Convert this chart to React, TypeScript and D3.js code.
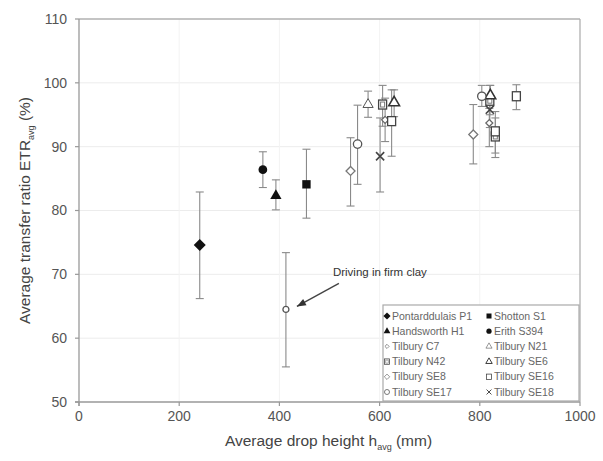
import React from "react";
import * as d3 from "d3";

const seriesNames = [
  "Pontarddulais P1", "Shotton S1", "Handsworth H1", "Erith S394",
  "Tilbury C7", "Tilbury N21", "Tilbury N42", "Tilbury SE6",
  "Tilbury SE8", "Tilbury SE16", "Tilbury SE17", "Tilbury SE18",
];
// point data: series index, drop height, ETR, low, high
const pointSeries = [0, 1, 2, 3, 4, 4, 5, 6, 6, 6, 7, 7, 8, 8, 9, 9, 9, 10, 10, 10, 11, 11];
const pointX = [241, 454, 393, 367, 611, 819, 577, 606, 820, 831, 629, 821, 542, 787, 624, 831, 873, 556, 804, 413, 601, 820];
const pointY = [74.6, 84.1, 82.3, 86.4, 94.2, 93.7, 96.6, 96.6, 97.2, 91.6, 96.9, 98.0, 86.2, 91.9, 94.0, 92.4, 97.9, 90.4, 97.9, 64.5, 88.5, 95.8];
const pointLow = [66.2, 78.8, 80.1, 83.6, 90.8, 90.0, 94.6, 93.2, 95.0, 88.3, 94.7, 96.5, 80.7, 87.3, 88.5, 89.0, 95.8, 84.1, 96.3, 55.5, 82.9, 93.0];
const pointHigh = [82.9, 89.6, 84.8, 89.2, 97.6, 96.0, 98.7, 99.6, 99.6, 94.5, 98.9, 99.6, 91.4, 96.6, 98.9, 95.5, 99.7, 96.5, 99.6, 73.4, 94.5, 98.0];

const xTicks = [0, 200, 400, 600, 800, 1000];
const yTicks = [50, 60, 70, 80, 90, 100, 110];
const annotationText = "Driving in firm clay";

const FONT = "Arial, 'Liberation Sans', sans-serif";

const diamond = (r: number) => `M0,${-r}L${r},0L0,${r}L${-r},0Z`;

function Marker({ s, x, y, scale = 1, small = false }: { s: number; x: number; y: number; scale?: number; small?: boolean }) {
  const t = `translate(${x},${y}) scale(${scale})`;
  const sym = (type: any, size: number) => d3.symbol().type(type).size(size)()!;
  switch (s) {
    case 0:
      return <path transform={t} d={diamond(6)} fill="#111" />;
    case 1:
      return <path transform={t} d={sym(d3.symbolSquare, 70)} fill="#111" />;
    case 2:
      return <path transform={t} d={sym(d3.symbolTriangle, 55)} fill="#111" />;
    case 3:
      return <path transform={t} d={sym(d3.symbolCircle, 60)} fill="#111" />;
    case 4:
      return <path transform={t} d={diamond(3.5)} fill="white" stroke="#666" strokeWidth={1.2} />;
    case 5:
      return <path transform={t} d={sym(d3.symbolTriangle, 45)} fill="white" stroke="#555" strokeWidth={1} />;
    case 6:
      return (
        <g transform={t}>
          <rect x={-4} y={-4.5} width={8} height={9} fill="white" stroke="#444" strokeWidth={1.3} />
          <rect x={-2} y={-2.5} width={4} height={5} fill="none" stroke="#777" strokeWidth={1} />
        </g>
      );
    case 7:
      return <path transform={t} d={sym(d3.symbolTriangle, 50)} fill="white" stroke="#333" strokeWidth={1.6} />;
    case 8:
      return <path transform={t} d={diamond(4.5)} fill="white" stroke="#777" strokeWidth={1.3} />;
    case 9:
      return <rect transform={t} x={-4} y={-4.5} width={8} height={9} fill="white" stroke="#444" strokeWidth={1.3} />;
    case 10:
      return <path transform={t} d={sym(d3.symbolCircle, small ? 28 : 55)} fill="white" stroke="#555" strokeWidth={1.3} />;
    default:
      return <path transform={t} d={sym(d3.symbolTimes, 45)} fill="none" stroke="#444" strokeWidth={1.6} />;
  }
}

export default function App() {
  const W = 603, H = 461;
  const x = d3.scaleLinear().domain([0, 1000]).range([79, 580]);
  const y = d3.scaleLinear().domain([50, 110]).range([402, 19]);
  const [x0, x1] = x.range();
  const [yb, yt] = y.range();

  const clayIdx = pointX.findIndex((v, i) => pointY[i] < 70);
  const tipX = x(pointX[clayIdx]) + 11;
  const tipY = y(pointY[clayIdx]) - 3;
  const tailX = tipX + 42;
  const tailY = tipY - 23;
  const ang = Math.atan2(tipY - tailY, tipX - tailX);
  const ah = 9, aw = 3.5;
  const headPts = [
    [tipX, tipY],
    [tipX - ah * Math.cos(ang) + aw * Math.sin(ang), tipY - ah * Math.sin(ang) - aw * Math.cos(ang)],
    [tipX - ah * Math.cos(ang) - aw * Math.sin(ang), tipY - ah * Math.sin(ang) + aw * Math.cos(ang)],
  ].map((p) => p.join(",")).join(" ");

  const legX = 383, legY = 305, legW = 196, legH = 96;
  const rowH = 15.2;

  return (
    <svg width={W} height={H} style={{ position: "absolute", left: 0, top: 0, background: "white" }} fontFamily={FONT}>
      {/* grid */}
      {yTicks.filter((v) => v > 50 && v < 110).map((v) => (
        <line key={"gy" + v} x1={x0} x2={x1} y1={y(v)} y2={y(v)} stroke="#ececec" strokeWidth={1} />
      ))}
      {xTicks.filter((v) => v > 0 && v < 1000).map((v) => (
        <line key={"gx" + v} x1={x(v)} x2={x(v)} y1={yt} y2={yb} stroke="#f3f3f3" strokeWidth={1} />
      ))}
      {/* frame */}
      <line x1={x0} x2={x1} y1={yt} y2={yt} stroke="#b0b0b0" strokeWidth={1.3} />
      <line x1={x1} x2={x1} y1={yt} y2={yb} stroke="#b0b0b0" strokeWidth={1.3} />
      <line x1={x0} x2={x0} y1={yt} y2={yb + 4} stroke="#999" strokeWidth={1.3} />
      <line x1={x0 - 4} x2={x1} y1={yb} y2={yb} stroke="#999" strokeWidth={1.3} />
      {/* ticks */}
      {yTicks.map((v) => (
        <g key={"ty" + v}>
          <line x1={x0 - 4} x2={x0} y1={y(v)} y2={y(v)} stroke="#999" strokeWidth={1.2} />
          <text x={x0 - 12} y={y(v)} dy="0.35em" textAnchor="end" fontSize={14} fill="#555">{v}</text>
        </g>
      ))}
      {xTicks.map((v) => (
        <g key={"tx" + v}>
          <line x1={x(v)} x2={x(v)} y1={yb} y2={yb + 4} stroke="#999" strokeWidth={1.2} />
          <text x={x(v)} y={yb + 19} textAnchor="middle" fontSize={14} fill="#555">{v}</text>
        </g>
      ))}
      {/* axis titles */}
      <text x={(x0 + x1) / 2 - 1} y={446} textAnchor="middle" fontSize={15.5} fill="#444">
        Average drop height h<tspan fontSize={9} dy={4}>avg</tspan><tspan dy={-4}> (mm)</tspan>
      </text>
      <text transform={`translate(30,${(yt + yb) / 2}) rotate(-90)`} textAnchor="middle" fontSize={15.5} fill="#444">
        Average transfer ratio ETR<tspan fontSize={9} dy={4}>avg</tspan><tspan dy={-4}> (%)</tspan>
      </text>
      {/* error bars */}
      {pointX.map((px, i) => {
        const cx = x(px);
        return (
          <g key={"e" + i} stroke="#8a8a8a" strokeWidth={1.1}>
            <line x1={cx} x2={cx} y1={y(pointLow[i])} y2={y(pointHigh[i])} />
            <line x1={cx - 4} x2={cx + 4} y1={y(pointLow[i])} y2={y(pointLow[i])} />
            <line x1={cx - 4} x2={cx + 4} y1={y(pointHigh[i])} y2={y(pointHigh[i])} />
          </g>
        );
      })}
      {/* markers */}
      {pointX.map((px, i) => (
        <Marker key={"m" + i} s={pointSeries[i]} x={x(px)} y={y(pointY[i])} small={i === clayIdx} />
      ))}
      {/* annotation */}
      <line x1={tailX} y1={tailY} x2={tipX} y2={tipY} stroke="#444" strokeWidth={1.4} />
      <polygon points={headPts} fill="#333" />
      <text x={tailX - 6} y={tailY - 7} fontSize={11.5} fill="#333">{annotationText}</text>
      {/* legend */}
      <rect x={legX} y={legY} width={legW} height={legH} fill="white" stroke="#aaa" strokeWidth={1.2} />
      {seriesNames.map((name, i) => {
        const col = i % 2;
        const row = Math.floor(i / 2);
        const lx = legX + 4 + col * 102;
        const ly = legY + 11 + row * rowH;
        return (
          <g key={"l" + i}>
            <Marker s={i} x={lx} y={ly} scale={0.6} />
            <text x={lx + 5} y={ly} dy="0.35em" fontSize={10.5} fill="#666">{name}</text>
          </g>
        );
      })}
    </svg>
  );
}
